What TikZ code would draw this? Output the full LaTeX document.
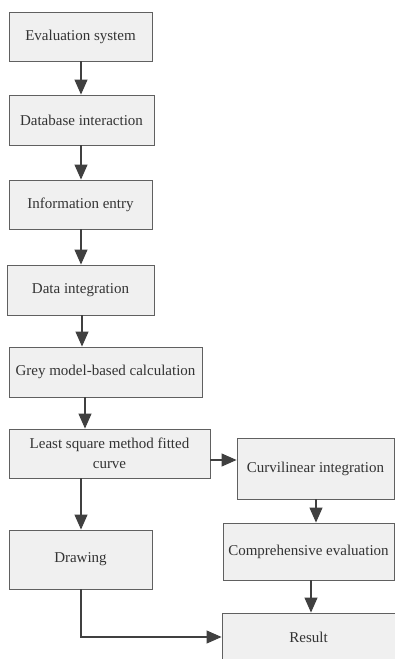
\documentclass[tikz,border=0pt]{standalone}
\usepackage{fontspec}
\setmainfont{Liberation Serif}
\usetikzlibrary{arrows.meta}
\definecolor{boxfill}{HTML}{F0F0F0}
\definecolor{boxline}{HTML}{606060}
\definecolor{arrline}{HTML}{404040}
\tikzset{
	box/.style={draw=boxline, fill=boxfill, line width=0.9pt, inner sep=0pt,
		text=black!80, font=\fontsize{15}{20}\selectfont, align=center},
	arr/.style={draw=arrline, line width=1.1pt,
		-{Triangle[length=15pt,width=13pt]}}
}

\begin{document}
\begin{tikzpicture}[x=1pt, y=-1pt]
	\clip (0,0) rectangle (395,659);
	\fill[white] (0,0) rectangle (395,659);
	\node[box, minimum width=143pt, minimum height=49pt] (es) at (80.5,36.5) {Evaluation system};
	\node[box, minimum width=145pt, minimum height=50pt] (db) at (81.5,120) {Database interaction};
	\node[box, minimum width=143pt, minimum height=49pt] (ie) at (80.5,204.5) {Information entry};
	\node[box, minimum width=147pt, minimum height=50pt] (di) at (80.5,290) {Data integration};
	\node[box, minimum width=193pt, minimum height=50pt] (gm) at (105.5,372) {Grey model-based calculation};
	\node[box, minimum width=201pt, minimum height=49pt] (ls) at (109.5,453.5) {Least square method fitted\\curve};
	\node[box, minimum width=157pt, minimum height=61pt] (ci) at (315.5,468.5) {Curvilinear integration};
	\node[box, minimum width=171pt, minimum height=57pt] (ce) at (308.5,551.5) {Comprehensive evaluation};
	\node[box, minimum width=143pt, minimum height=59pt] (dr) at (80.5,559.5) {Drawing};
	\node[box, minimum width=173pt, minimum height=48pt] (re) at (308.5,637) {Result};
	% main column
	\draw[arr] (es.south -| 81,0) -- (db.north -| 81,0);
	\draw[arr] (db.south -| 81,0) -- (ie.north -| 81,0);
	\draw[arr] (ie.south -| 81,0) -- (di.north -| 81,0);
	\draw[arr] (di.south -| 82,0) -- (gm.north -| 82,0);
	\draw[arr] (gm.south -| 85,0) -- (ls.north -| 85,0);
	\draw[arr] (ls.south -| 81,0) -- (dr.north -| 81,0);
	% right branch
	\draw[arr] ([yshift=-6.5pt]ls.east) -- ([yshift=-6.5pt]ls.east -| ci.west);
	\draw[arr] (ci.south -| 316,0) -- (ce.north -| 316,0);
	\draw[arr] (ce.south -| 311,0) -- (re.north -| 311,0);
	\draw[arr] (dr.south -| 81,0) |- (re.west);
\end{tikzpicture}
\end{document}
